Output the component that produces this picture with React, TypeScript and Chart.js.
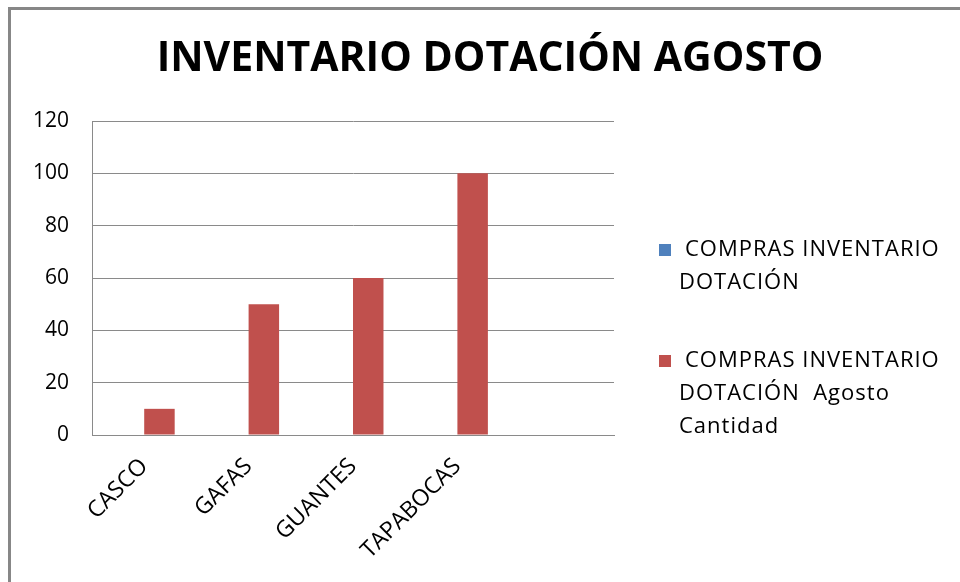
import React, { useEffect, useRef } from 'react';
import { Chart, registerables } from 'chart.js';

Chart.register(...registerables);

const TITLE = 'INVENTARIO DOTACIÓN AGOSTO';
const CATEGORIES = ['CASCO', 'GAFAS', 'GUANTES', 'TAPABOCAS', ''];
const SERIES_1_LINES = ['COMPRAS INVENTARIO', 'DOTACIÓN'];
const SERIES_1_VALUES: (number | null)[] = [null, null, null, null, null];
const SERIES_2_LINES = ['COMPRAS INVENTARIO', 'DOTACIÓN  Agosto', 'Cantidad'];
const SERIES_2_VALUES: (number | null)[] = [10, 50, 60, 100, null];
const Y_MIN = 0;
const Y_MAX = 120;
const Y_STEP = 20;

const BLUE = '#4F81BD';
const RED = '#C0504D';
const GRID = '#8a8a8a';
const FONT = '"Open Sans", "DejaVu Sans", sans-serif';

const decorPlugin = {
  id: 'decor',
  beforeDraw(chart: any) {
    const { ctx, width, height } = chart;
    ctx.save();
    ctx.fillStyle = '#ffffff';
    ctx.fillRect(0, 0, width, height);
    ctx.fillStyle = '#878787';
    ctx.fillRect(8, 7, 3, height);
    ctx.fillRect(8, 7, width, 3);
    ctx.restore();
  },
  afterDraw(chart: any) {
    const { ctx, chartArea } = chart;
    ctx.save();
    // title
    ctx.fillStyle = '#000000';
    ctx.font = `bold 41px ${FONT}`;
    ctx.textAlign = 'center';
    ctx.textBaseline = 'middle';
    ctx.fillText(TITLE, 490, 59);
    // legend
    const boxX = chartArea.right + 45;
    const textX = chartArea.right + 65;
    let y = chartArea.top + 129;
    ctx.textAlign = 'left';
    ctx.font = `22px ${FONT}`;
    if ('letterSpacing' in ctx) (ctx as any).letterSpacing = '1px';
    chart.data.datasets.forEach((ds: any) => {
      ctx.fillStyle = ds.backgroundColor;
      ctx.fillRect(boxX, y - 6, 12, 12);
      ctx.fillStyle = '#000000';
      (ds.legendLines as string[]).forEach((ln, j) => {
        ctx.fillText(ln, textX + (j === 0 ? 6 : 0), y + j * 33);
      });
      y += 111;
    });
    ctx.restore();
  },
};

export default function App() {
  const canvasRef = useRef<HTMLCanvasElement | null>(null);

  useEffect(() => {
    if (!canvasRef.current) return;
    const chart = new Chart(canvasRef.current, {
      type: 'bar',
      data: {
        labels: CATEGORIES,
        datasets: [
          {
            label: SERIES_1_LINES.join(' '),
            legendLines: SERIES_1_LINES,
            data: SERIES_1_VALUES,
            backgroundColor: BLUE,
            categoryPercentage: 0.584,
            barPercentage: 1,
          } as any,
          {
            label: SERIES_2_LINES.join(' '),
            legendLines: SERIES_2_LINES,
            data: SERIES_2_VALUES,
            backgroundColor: RED,
            categoryPercentage: 0.584,
            barPercentage: 1,
          } as any,
        ],
      },
      options: {
        responsive: false,
        animation: false,
        layout: { padding: { left: 0, right: 346, top: 121, bottom: 0 } },
        plugins: {
          legend: { display: false },
          title: { display: false },
          tooltip: { enabled: false },
        },
        scales: {
          x: {
            grid: { display: false, drawTicks: false },
            border: { display: true, color: GRID, width: 1 },
            ticks: {
              color: '#000000',
              font: { family: FONT, size: 23 },
              minRotation: 45,
              maxRotation: 45,
              autoSkip: false,
              padding: 18,
            },
            afterFit: (scale: any) => {
              scale.height = 147;
            },
          },
          y: {
            min: Y_MIN,
            max: Y_MAX,
            grid: { color: GRID, lineWidth: 1, drawTicks: false },
            border: { display: true, color: GRID, width: 1 },
            ticks: {
              stepSize: Y_STEP,
              color: '#000000',
              font: { family: FONT, size: 21 },
              padding: 23,
            },
            afterFit: (scale: any) => {
              scale.width = 92;
            },
          },
        },
      },
      plugins: [decorPlugin],
    });
    return () => chart.destroy();
  }, []);

  return (
    <div style={{ position: 'absolute', left: 0, top: 0, width: 960, height: 582 }}>
      <canvas ref={canvasRef} width={960} height={582} style={{ display: 'block' }} />
    </div>
  );
}
